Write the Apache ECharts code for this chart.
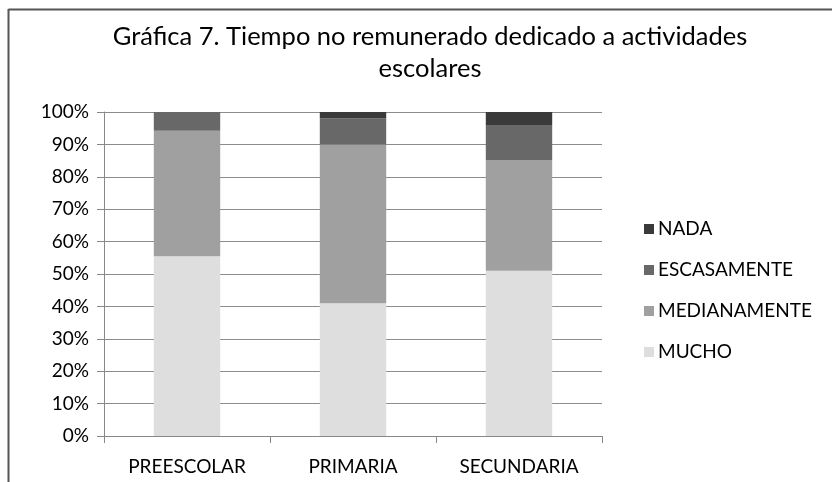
<!DOCTYPE html>
<html>
<head>
<meta charset="utf-8">
<script src="https://cdn.jsdelivr.net/npm/echarts@6/dist/echarts.min.js"></script>
<style>html,body{margin:0;padding:0;background:#fff;}#c{width:832px;height:482px;}</style>
</head>
<body>
<div id="c"></div>
<script>
var categories = ['PREESCOLAR', 'PRIMARIA', 'SECUNDARIA'];
var mucho = [55.5, 41, 51];
var medianamente = [38.7, 49, 34.2];
var escasamente = [5.8, 8, 10.8];
var nada = [0, 2, 4];
var yTicks = [0, 10, 20, 30, 40, 50, 60, 70, 80, 90, 100];

var FONT = 'Lato, "Liberation Sans", sans-serif';
var chart = echarts.init(document.getElementById('c'));
function ser(name, data, color) {
  return { name: name, type: 'bar', stack: 't', data: data, barWidth: '40%',
    itemStyle: { color: color }, emphasis: { disabled: true } };
}
chart.setOption({
  animation: false,
  backgroundColor: '#fff',
  title: {
    text: 'Gráfica 7. Tiempo no remunerado dedicado a actividades\nescolares',
    left: 425, top: 16, textAlign: 'center',
    textStyle: { fontFamily: FONT, fontSize: 25.5, fontWeight: 'normal', color: '#000', lineHeight: 32 }
  },
  legend: {
    orient: 'vertical', left: 639, top: 214, itemGap: 21,
    itemWidth: 10, itemHeight: 10, icon: 'rect',
    data: ['NADA', 'ESCASAMENTE', 'MEDIANAMENTE', 'MUCHO'],
    textStyle: { fontFamily: FONT, fontSize: 19, lineHeight: 20, color: '#000', padding: [0, 0, 0, -1] }
  },
  grid: { left: 104, top: 112, width: 498, height: 324 },
  xAxis: {
    type: 'category', data: categories,
    axisLine: { lineStyle: { color: '#888', width: 1 } },
    axisTick: { show: true, length: 7, lineStyle: { color: '#888' }, alignWithLabel: false },
    axisLabel: { fontFamily: FONT, fontSize: 19, color: '#000', margin: 21 }
  },
  yAxis: {
    type: 'value', min: 0, max: 100, interval: 10,
    axisLine: { show: true, lineStyle: { color: '#888' } },
    axisTick: { show: true, length: 7, lineStyle: { color: '#888' } },
    splitLine: { lineStyle: { color: '#8c8c8c', width: 1 } },
    axisLabel: { fontFamily: FONT, fontSize: 19, color: '#000', margin: 15,
      formatter: function (v) { return yTicks.indexOf(v) >= 0 ? v + '%' : ''; } }
  },
  series: [
    ser('MUCHO', mucho, '#dedede'),
    ser('MEDIANAMENTE', medianamente, '#a0a0a0'),
    ser('ESCASAMENTE', escasamente, '#686868'),
    ser('NADA', nada, '#3a3a3a')
  ],
  graphic: [
    { type: 'line', shape: { x1: 8.5, y1: 9.5, x2: 832, y2: 9.5 }, style: { stroke: '#555', lineWidth: 2 } },
    { type: 'line', shape: { x1: 8.5, y1: 9, x2: 8.5, y2: 482 }, style: { stroke: '#555', lineWidth: 2 } }
  ]
});
</script>
</body>
</html>
